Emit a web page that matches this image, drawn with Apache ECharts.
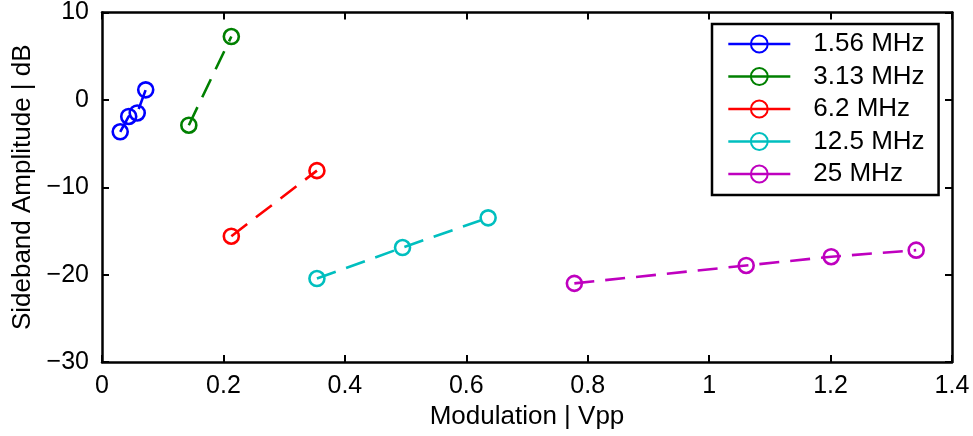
<!DOCTYPE html>
<html>
<head>
<meta charset="utf-8">
<script src="https://cdn.jsdelivr.net/npm/echarts@6/dist/echarts.min.js"></script>
<style>html,body{margin:0;padding:0;background:#fff;}#c{width:973px;height:436px;}</style>
</head>
<body>
<div id="c"></div>
<script>
const seriesNames = ['1.56 MHz', '3.13 MHz', '6.2 MHz', '12.5 MHz', '25 MHz'];
const colors = ['#0000ff', '#008000', '#ff0000', '#00bfbf', '#bf00bf'];
const x156 = [0.030, 0.044, 0.058, 0.072];
const y156 = [-3.65, -1.9, -1.5, 1.15];
const x313 = [0.143, 0.213];
const y313 = [-2.9, 7.25];
const x62 = [0.213, 0.354];
const y62 = [-15.6, -8.1];
const x125 = [0.354, 0.495, 0.636];
const y125 = [-20.45, -16.9, -13.5];
const x25 = [0.778, 1.061, 1.201, 1.341];
const y25 = [-21.0, -18.95, -17.95, -17.2];
const xs = [x156, x313, x62, x125, x25];
const ys = [y156, y313, y62, y125, y25];
const xTicks = { min: 0, max: 1.4, interval: 0.2 };
const yTicks = { min: -30, max: 10, interval: 10 };

const FONT = 'Liberation Sans, Arial, Helvetica, sans-serif';
const chart = echarts.init(document.getElementById('c'), null, { renderer: 'canvas' });

const series = seriesNames.map((name, i) => ({
  name: name,
  type: 'line',
  data: xs[i].map((x, j) => [x, ys[i][j]]),
  symbol: 'circle',
  symbolSize: 15,
  showSymbol: true,
  lineStyle: { color: colors[i], width: 2.6, type: [20, 11] },
  itemStyle: { color: 'rgba(0,0,0,0)', borderColor: colors[i], borderWidth: 2.6 },
  emphasis: { disabled: true },
  animation: false,
  z: 3
}));

function fmt(v) {
  return String(Math.round(v * 10) / 10);
}
function yfmt(v) {
  return v < 0 ? '\u2212' + Math.abs(v) : String(v);
}

const axisLine = { show: true, onZero: false, lineStyle: { color: '#000', width: 2.5 } };
const tick = { show: true, inside: true, length: 7, lineStyle: { color: '#000', width: 2 } };

const option = {
  backgroundColor: '#fff',
  animation: false,
  grid: { left: 102, right: 21, top: 12, bottom: 74, containLabel: false },
  legend: {
    orient: 'vertical',
    left: 712,
    top: 24,
    data: seriesNames,
    backgroundColor: '#fff',
    borderColor: '#000',
    borderWidth: 2.5,
    borderRadius: 0,
    padding: [7, 14, 8, 15],
    itemWidth: 62,
    itemHeight: 21,
    itemGap: 6.5,
    selectedMode: false,
    lineStyle: { type: 'solid', width: 2.6 },
    textStyle: { fontFamily: FONT, fontSize: 26, color: '#000', lineHeight: 26, padding: [0, 0, 0, 18] }
  },
  xAxis: [
    {
      type: 'value', position: 'bottom',
      min: xTicks.min, max: xTicks.max, interval: xTicks.interval,
      axisLine: axisLine, axisTick: tick,
      splitLine: { show: false },
      axisLabel: { fontFamily: FONT, fontSize: 25, color: '#000', margin: 12, formatter: fmt, showMaxLabel: true, showMinLabel: true },
      name: 'Modulation | Vpp', nameLocation: 'middle', nameGap: 42,
      nameTextStyle: { fontFamily: FONT, fontSize: 26, color: '#000' }
    },
    {
      type: 'value', position: 'top',
      min: xTicks.min, max: xTicks.max, interval: xTicks.interval,
      axisLine: axisLine, axisTick: tick,
      splitLine: { show: false },
      axisLabel: { show: false }
    }
  ],
  yAxis: [
    {
      type: 'value', position: 'left',
      min: yTicks.min, max: yTicks.max, interval: yTicks.interval,
      axisLine: axisLine, axisTick: tick,
      splitLine: { show: false },
      axisLabel: { fontFamily: FONT, fontSize: 25, color: '#000', margin: 13, formatter: yfmt },
      name: 'Sideband Amplitude | dB', nameLocation: 'middle', nameGap: 62, nameRotate: 90,
      nameTextStyle: { fontFamily: FONT, fontSize: 26, color: '#000' }
    },
    {
      type: 'value', position: 'right',
      min: yTicks.min, max: yTicks.max, interval: yTicks.interval,
      axisLine: axisLine, axisTick: tick,
      splitLine: { show: false },
      axisLabel: { show: false }
    }
  ],
  series: series
};
chart.setOption(option);
</script>
</body>
</html>
